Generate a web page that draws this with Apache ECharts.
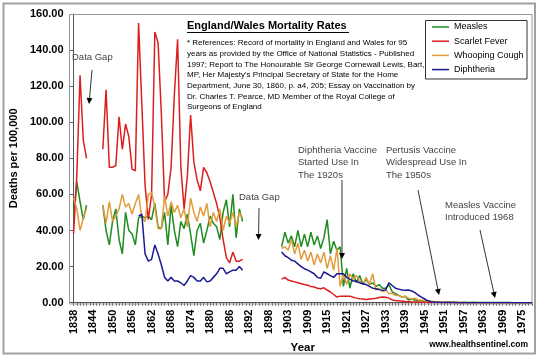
<!DOCTYPE html>
<html><head><meta charset="utf-8">
<script src="https://cdn.jsdelivr.net/npm/echarts@6/dist/echarts.min.js"></script>
<style>html,body{margin:0;padding:0;background:#fff}#c{width:540px;height:359px}</style>
</head><body><div id="c"></div>
<script>
// ---- categories (tick labels): 1838-1898, one spacer row, 1899-1978
const categories = [];
for (let y = 1838; y <= 1898; y++) categories.push(String(y));
categories.push('');
for (let y = 1899; y <= 1978; y++) categories.push(String(y));

// ---- series values (deaths per 100,000), segments start at given year
const measles1838 = [48, 67, 56, 46, 54];
const measles1847 = [54,40,32,45,52,35,27,50,40,38,32,47,48,47,48,46,55,42,41,50,32,54,40,31,45,41,49,38,26,40,44,33,40,48,44,42,35,50,57,42,60,36,52,45];
const measles1901 = [31,39,33,37,31,40,31,38,31,39, 32,37,30,36,46,27,34,29,31,9, 19,8,16,11,15,10,13,10,11,9, 10,8,8,10,6,5,4,3,3.5,1.5, 2,1.5,1.2,1,0.8,0.6,0.4,0.4,0.3,0.2,
  0.2,0.3,0.2,0.2,0.2,0.1,0.2,0.1,0.1,0.2, 0.1,0.1,0.1,0.1,0.1,0.1,0.1,0.1,0.1,0.1, 0.1,0,0,0,0,0,0,0];

const scarlet1838 = [38, 70, 126, 90, 80];
const scarlet1847 = [85,118,75,75,76,103,85,99,92,74,73,155,110,65,46,60,150,144,105,56,60,75,115,146,75,52,70,104,78,68,62,75,72,67,61,55,47,35,25,22,28,23,23,24];
const scarlet1901 = [13,14,12.5,12,11.5,11,10.5,10,9.6,9, 8.7,8,7.7,8.2,7,5.9,4.5,3.1,3.6,3.5, 3.6,3.6,3,2.5,2.2,2,1.8,2,2.2,2.4, 2.8,3.1,3,2.5,1.5,1.2,1,0.8,0.6,0.5, 0.4,0.3,0.3,0.2,0.2,0.1,0.1,
  0.1,0.1,0.1,0.1,0.1,0,0,0,0,0, 0,0,0,0,0,0,0,0,0,0, 0,0,0,0,0,0,0,0,0,0,0];

const whooping1838 = [58, 52, 40, 47, 52];
const whooping1847 = [54,44,56,45,48,52,60,53,55,49,55,60,47,45,60,61,53,41,41,59,48,56,50,54,47,52,42,58,50,45,53,48,55,42,50,45,52,40,48,44,50,42,50,47];
const whooping1901 = [30,31,29,35,27,33,24,29,23,28, 21,27,22,28,19,26,18,30,9,16, 10,16,13,15,12,10,14,10,16,7, 8,6,7,5,5,4,4,3,3.5,2.5, 2,2.5,1.5,1.5,1,1,0.8,
  0.6,0.5,0.4,0.3,0.3,0.2,0.2,0.1,0.1,0.1, 0.1,0.1,0,0,0,0,0,0,0,0, 0,0,0,0,0,0,0,0,0,0,0];

const diphtheria1858 = [48,49,27,23,24,32,27,21,14,12,14,12,12,11,9.5,12,15,14,12,12,14,11.5,12,14,16,19,19,16,17,18,18,20,18];
const diphtheria1901 = [28,26,25,23.5,23,21.5,20,18.8,18,17, 16,14,13.5,17,16,15,14,16,16,16, 14,13,12,12,11,10.5,10,9,8,7.7, 7.2,6.8,7,11,9.5,8,7.5,7,6.8,7, 6.5,5.5,4.2,3,2,1,0.5,0.3,0.2,
  0.1,0.1,0.1,0.1,0.1,0,0,0,0,0, 0,0,0,0,0,0,0,0,0,0, 0,0,0,0,0,0,0,0,0];

const yTicks = {min: 0, max: 160, interval: 20};

function build(segs) {
  const out = categories.map(() => null);
  segs.forEach(([year, vals]) => {
    const s = categories.indexOf(String(year));
    vals.forEach((v, k) => { out[s + k] = v; });
  });
  return out;
}

const FONT = 'Liberation Sans, Arial, sans-serif';
const chart = echarts.init(document.getElementById('c'), null, {renderer: 'canvas'});

function arrow(x1, y1, x2, y2) {
  const dx = x2 - x1, dy = y2 - y1, L = Math.hypot(dx, dy);
  const ux = dx / L, uy = dy / L, nx = -uy, ny = ux, h = 6, w = 3;
  return [
    {type: 'line', z: 20, shape: {x1, y1, x2: x2 - ux * 4, y2: y2 - uy * 4}, style: {stroke: '#333', lineWidth: 1}},
    {type: 'polygon', z: 20, shape: {points: [[x2, y2], [x2 - ux * h + nx * w, y2 - uy * h + ny * w], [x2 - ux * h - nx * w, y2 - uy * h - ny * w]]}, style: {fill: '#000'}}
  ];
}
function txt(x, y, text, size, opts) {
  return Object.assign({type: 'text', z: 20, x, y, style: Object.assign({text, font: size + 'px ' + FONT, fill: '#444', verticalAlign: 'middle'}, opts || {})});
}

const refText = [
  '* References: Record of mortality in England and Wales for 95',
  'years as provided by the Office of National Statistics - Published',
  '1997; Report to The Honourable Sir George Cornewall Lewis, Bart,',
  'MP, Her Majesty\'s Principal Secretary of State for the Home',
  'Department, June 30, 1860, p. a4, 205; Essay on Vaccination by',
  'Dr. Charles T. Pearce, MD Member of the Royal College of',
  'Surgeons of England'
].join('\n');

const graphics = [
  {type: 'rect', z: 1, shape: {x: 3.5, y: 3.5, width: 531.5, height: 350}, style: {fill: null, stroke: '#a0a0a0', lineWidth: 2}},
  {type: 'rect', z: 1, shape: {x: 69.5, y: 14.5, width: 462.5, height: 289.5}, style: {fill: null, stroke: '#999', lineWidth: 1}},
  {type: 'text', z: 20, x: 187, y: 26, style: {text: 'England/Wales Mortality Rates', font: 'bold 11px ' + FONT, fill: '#000', verticalAlign: 'middle'}},
  {type: 'line', z: 20, shape: {x1: 187, y1: 32.5, x2: 349, y2: 32.5}, style: {stroke: '#000', lineWidth: 1}},
  {type: 'text', z: 20, x: 187, y: 37.7, style: {text: refText, font: '8px ' + FONT, fill: '#000', lineHeight: 10.7, verticalAlign: 'top'}},
  {type: 'rect', z: 3, shape: {x: 425.5, y: 20.5, width: 101.5, height: 58.5}, style: {fill: '#fff', stroke: '#333', lineWidth: 1}},
  txt(72, 57, 'Data Gap', 9.5),
  txt(239, 197, 'Data Gap', 9.5),
  {type: 'text', z: 20, x: 298, y: 143.75, style: {text: 'Diphtheria Vaccine\nStarted Use In\nThe 1920s', font: '9.5px ' + FONT, fill: '#444', lineHeight: 12.5, verticalAlign: 'top'}},
  {type: 'text', z: 20, x: 386, y: 143.75, style: {text: 'Pertusis Vaccine\nWidespread Use In\nThe 1950s', font: '9.5px ' + FONT, fill: '#444', lineHeight: 12.5, verticalAlign: 'top'}},
  {type: 'text', z: 20, x: 445, y: 199, style: {text: 'Measles Vaccine\nIntroduced 1968', font: '9.5px ' + FONT, fill: '#444', lineHeight: 12, verticalAlign: 'top'}},
  {type: 'text', z: 20, x: 528, y: 345, style: {text: 'www.healthsentinel.com', font: 'bold 8.5px ' + FONT, fill: '#000', align: 'right', verticalAlign: 'middle'}},
  ...arrow(92, 70, 89, 104),
  ...arrow(259, 208, 258.5, 240),
  ...arrow(342, 180, 342, 259),
  ...arrow(418, 190, 439, 295),
  ...arrow(480, 230, 495, 298)
];

const seriesDefs = [
  {name: 'Measles', color: '#1f8c1f', segs: [[1838, measles1838], [1847, measles1847], [1901, measles1901]]},
  {name: 'Scarlet Fever', color: '#dc1e1e', segs: [[1838, scarlet1838], [1847, scarlet1847], [1901, scarlet1901]]},
  {name: 'Whooping Cough', color: '#e39b3c', segs: [[1838, whooping1838], [1847, whooping1847], [1901, whooping1901]]},
  {name: 'Diphtheria', color: '#1a1a96', segs: [[1858, diphtheria1858], [1901, diphtheria1901]]}
];

chart.setOption({
  animation: false,
  backgroundColor: '#fff',
  textStyle: {fontFamily: FONT},
  grid: {left: 69, right: 8, top: 14, bottom: 55, containLabel: false},
  legend: {
    orient: 'vertical', left: 432, top: 22.5, padding: 0, itemWidth: 17, itemHeight: 10, itemGap: 5.2, z: 5,
    icon: 'path://M0,0 L17,0 L17,1.5 L0,1.5 Z',
    textStyle: {fontSize: 9, color: '#000', fontFamily: FONT},
    data: seriesDefs.map(s => s.name)
  },
  xAxis: {
    type: 'category', data: categories, boundaryGap: false,
    name: 'Year', nameLocation: 'middle', nameGap: 31,
    nameTextStyle: {fontSize: 11.5, fontWeight: 'bold', color: '#000', fontFamily: FONT},
    axisLine: {lineStyle: {color: '#555', width: 1}},
    axisTick: {show: true, interval: 0, length: 3, lineStyle: {color: '#555'}},
    axisLabel: {interval: 5, rotate: 90, margin: 7, fontSize: 11, fontWeight: 'bold', color: '#000', fontFamily: FONT},
    splitLine: {show: false}
  },
  yAxis: {
    type: 'value', min: yTicks.min, max: yTicks.max, interval: yTicks.interval,
    name: 'Deaths per 100,000', nameLocation: 'middle', nameGap: 50, nameRotate: 90,
    nameTextStyle: {fontSize: 11, fontWeight: 'bold', color: '#000', fontFamily: FONT},
    axisLine: {show: true, lineStyle: {color: '#555', width: 1}},
    axisTick: {show: true, length: 4, lineStyle: {color: '#555'}},
    axisLabel: {margin: 10, fontSize: 11, fontWeight: 'bold', color: '#000', fontFamily: FONT, formatter: v => v.toFixed(2)},
    splitLine: {show: false}
  },
  series: seriesDefs.map(s => ({
    name: s.name, type: 'line', data: build(s.segs), symbol: 'none', connectNulls: false,
    lineStyle: {width: 1.5, color: s.color}, itemStyle: {color: s.color}, z: 2
  })),
  graphic: graphics
});
</script></body></html>
